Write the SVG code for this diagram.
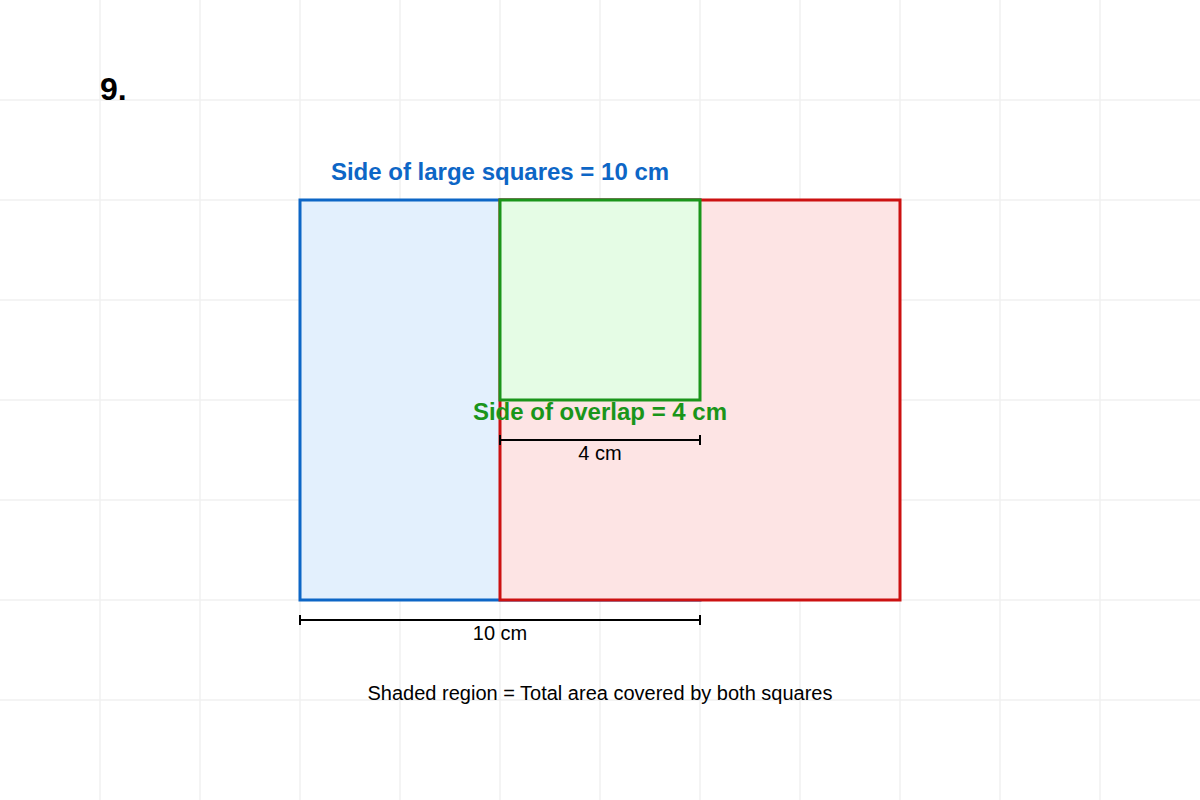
<svg xmlns="http://www.w3.org/2000/svg" width="1200" height="800" viewBox="0 0 1200 800">
<style>
.grid line{stroke:#f0f0f0;stroke-width:1.5}
text{font-family:"Liberation Sans",Arial,sans-serif}
.dim{stroke:#000;stroke-width:2;fill:none}
.lbl{font-size:20px;fill:#000;text-anchor:middle}
</style>
<rect width="1200" height="800" fill="#fff"/>
<g class="grid">
<line x1="100" y1="0" x2="100" y2="800"/><line x1="200" y1="0" x2="200" y2="800"/><line x1="300" y1="0" x2="300" y2="800"/><line x1="400" y1="0" x2="400" y2="800"/><line x1="500" y1="0" x2="500" y2="800"/><line x1="600" y1="0" x2="600" y2="800"/><line x1="700" y1="0" x2="700" y2="800"/><line x1="800" y1="0" x2="800" y2="800"/><line x1="900" y1="0" x2="900" y2="800"/><line x1="1000" y1="0" x2="1000" y2="800"/><line x1="1100" y1="0" x2="1100" y2="800"/>
<line x1="0" y1="100" x2="1200" y2="100"/><line x1="0" y1="200" x2="1200" y2="200"/><line x1="0" y1="300" x2="1200" y2="300"/><line x1="0" y1="400" x2="1200" y2="400"/><line x1="0" y1="500" x2="1200" y2="500"/><line x1="0" y1="600" x2="1200" y2="600"/><line x1="0" y1="700" x2="1200" y2="700"/>
</g>
<text x="100" y="100" font-size="32" font-weight="bold" fill="#000">9.</text>
<g id="blue-square">
<rect x="300" y="200" width="400" height="400" fill="#e3f0fd" stroke="#0d66c6" stroke-width="3"/>
</g>
<g id="red-square">
<rect x="500" y="200" width="400" height="400" fill="#fde4e4" stroke="#cc1111" stroke-width="3"/>
</g>
<g id="overlap">
<rect x="500" y="200" width="200" height="200" fill="#e5fce5" stroke="#1a951a" stroke-width="3"/>
</g>
<text x="500" y="180" font-size="24" font-weight="bold" fill="#0d66c6" text-anchor="middle">Side of large squares = 10 cm</text>
<text x="600" y="420" font-size="24" font-weight="bold" fill="#1a951a" text-anchor="middle">Side of overlap = 4 cm</text>
<g id="dims">
<path class="dim" d="M500 440H700M500 435V445M700 435V445"/>
<path class="dim" d="M300 620H700M300 615V625M700 615V625"/>
</g>
<text class="lbl" x="600" y="460">4 cm</text>
<text class="lbl" x="500" y="640">10 cm</text>
<text class="lbl" x="600" y="700">Shaded region = Total area covered by both squares</text>
</svg>
